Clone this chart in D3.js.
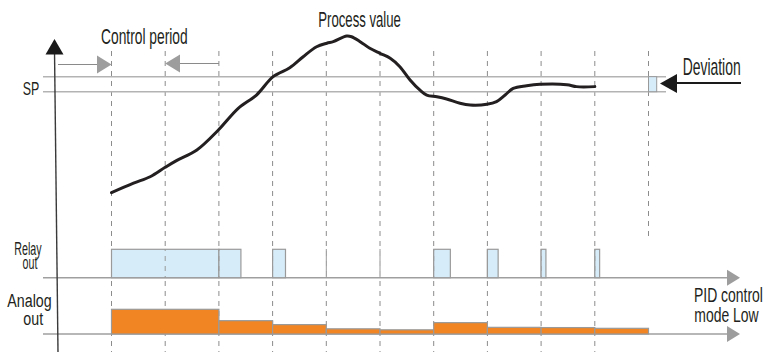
<!DOCTYPE html>
<html>
<head>
<meta charset="utf-8">
<script src="https://cdn.jsdelivr.net/npm/d3@7"></script>
<style>
  html, body { margin: 0; padding: 0; background: #fff; }
  svg { display: block; }
  text { font-family: "Liberation Sans Narrow", "Arial Narrow", sans-serif; fill: #231f20; }
</style>
</head>
<body>
<svg id="chart" width="764" height="352"></svg>
<script>
// ---------------- data ----------------
// control periods (dashed boundaries), in period units
const periods = [0, 1, 2, 3, 4, 5, 6, 7, 8, 9, 10];

// process value curve: time (periods) and value (arbitrary units)
const pvTime  = [0.0, 0.41, 0.72, 1.0, 1.21, 1.59, 1.99, 2.36, 2.70, 3.01, 3.32, 3.57, 3.82, 4.01, 4.13, 4.38, 4.47, 4.63, 4.81, 5.0, 5.19, 5.37, 5.56, 5.74, 5.87, 6.06, 6.24, 6.49, 6.68, 6.99, 7.17, 7.33, 7.48, 7.73, 7.98, 8.48, 8.66, 9.0];
const pvValue = [9.9, 15.3, 19.0, 24.4, 28.2, 34.3, 45.7, 58.1, 65.7, 76.2, 81.3, 87.6, 93.3, 95.3, 96.2, 99.4, 99.0, 96.2, 92.4, 89.5, 86.7, 81.9, 74.3, 68.6, 65.7, 64.7, 63.4, 61.0, 60.0, 60.4, 61.9, 65.7, 69.5, 71.0, 71.8, 71.6, 70.5, 70.5];

// set point band (deviation)
const spBand = [67.6, 76.2];

// relay output: on-intervals (start period, on duration in periods)
const relayStart = [0, 2, 3, 6, 7, 8, 9];
const relayOn    = [2, 0.41, 0.24, 0.31, 0.2, 0.09, 0.09];

// analog output: (start period, duration, output %)
const analogStart = [0, 2, 3, 4, 5, 6, 7, 8, 9];
const analogDur   = [2, 1, 1, 1, 1, 1, 1, 1, 1];
const analogOut   = [100, 54, 38, 21, 17, 46, 27, 26, 23];

// ---------------- drawing ----------------
const svg = d3.select("#chart");

const x = d3.scaleLinear().domain([0, 10]).range([111.5, 648.5]);
const yPV = d3.scaleLinear().domain([0, 100]).range([210, 35]);
const yRelay = d3.scaleLinear().domain([0, 1]).range([277.7, 249.3]);
const yAnalog = d3.scaleLinear().domain([0, 100]).range([334, 309.3]);

const grayLine = "#b3b3b3";
const arrowGray = "#9d9d9d";

// condensed label (one or more lines in a single text element),
// squeezed horizontally so that the first line has the given width
function label(lines, fs) {
  const t = svg.append("text").attr("font-size", fs);
  const spans = lines.map(l => t.append("tspan").attr("x", 0).attr("y", 0).text(l.txt));
  const w0 = spans[0].node().getComputedTextLength() || lines[0].len;
  const s = lines[0].len / w0;
  const x0 = lines[0].x;
  t.attr("transform", `translate(${x0},0) scale(${s},1)`);
  spans.forEach((sp, i) => sp.attr("x", (lines[i].x - x0) / s).attr("y", lines[i].y));
}

// dashed period boundaries
svg.append("g").selectAll("line")
  .data(periods)
  .join("line")
  .attr("x1", d => x(d)).attr("x2", d => x(d))
  .attr("y1", 51).attr("y2", d => d === 10 ? 236 : 352)
  .attr("stroke", "#8c8c8c")
  .attr("stroke-width", 1)
  .attr("stroke-dasharray", "5,5");

// SP band lines
svg.append("g").selectAll("line")
  .data(spBand)
  .join("line")
  .attr("x1", 43).attr("x2", 666)
  .attr("y1", d => yPV(d)).attr("y2", d => yPV(d))
  .attr("stroke", grayLine)
  .attr("stroke-width", 1.5);

// deviation box
svg.append("rect")
  .attr("x", x(10)).attr("width", 8.2)
  .attr("y", yPV(spBand[1])).attr("height", yPV(spBand[0]) - yPV(spBand[1]))
  .attr("fill", "#d6ecf9").attr("stroke", "#9a9a9a").attr("stroke-width", 1);

// relay axis & analog axis lines with arrows
[yRelay(0), yAnalog(0)].forEach(yy => {
  svg.append("line").attr("x1", 43).attr("x2", 728).attr("y1", yy).attr("y2", yy)
    .attr("stroke", "#9f9f9f").attr("stroke-width", 1.5);
  svg.append("path")
    .attr("d", `M727,${yy - 8}L740,${yy}L727,${yy + 8}Z`)
    .attr("fill", arrowGray);
});

// relay bars
svg.append("g").selectAll("rect")
  .data(relayStart.map((s, i) => ({ s, d: relayOn[i] })))
  .join("rect")
  .attr("x", d => x(d.s))
  .attr("width", d => x(d.s + d.d) - x(d.s))
  .attr("y", yRelay(1))
  .attr("height", yRelay(0) - yRelay(1))
  .attr("fill", "#d6ecf9")
  .attr("stroke", "#9a9a9a")
  .attr("stroke-width", 1.2);

// analog bars
svg.append("g").selectAll("rect")
  .data(analogStart.map((s, i) => ({ s, d: analogDur[i], v: analogOut[i] })))
  .join("rect")
  .attr("x", d => x(d.s))
  .attr("width", d => x(d.s + d.d) - x(d.s))
  .attr("y", d => yAnalog(d.v))
  .attr("height", d => yAnalog(0) - yAnalog(d.v))
  .attr("fill", "#f18523")
  .attr("stroke", "#9a9a9a")
  .attr("stroke-width", 1.2);

// dashes visible over the relay bars
svg.append("g").selectAll("line")
  .data(periods.filter(d => d > 0 && d < 10))
  .join("line")
  .attr("x1", d => x(d)).attr("x2", d => x(d))
  .attr("y1", 249).attr("y2", 278)
  .attr("stroke", "#9a9a9a")
  .attr("stroke-width", 1)
  .attr("stroke-dasharray", "5,5")
  .attr("stroke-dashoffset", 3);

// process value curve
const line = d3.line()
  .x(d => x(d[0]))
  .y(d => yPV(d[1]))
  .curve(d3.curveCatmullRom.alpha(0.5));
svg.append("path")
  .datum(pvTime.map((t, i) => [t, pvValue[i]]))
  .attr("d", line)
  .attr("fill", "none")
  .attr("stroke", "#231f20")
  .attr("stroke-width", 3)
  .attr("stroke-linecap", "round");

// y axis (slightly slanted) with black arrow
svg.append("line")
  .attr("x1", 54.5).attr("y1", 50).attr("x2", 58).attr("y2", 352)
  .attr("stroke", "#3a3a3a").attr("stroke-width", 1.4);
svg.append("path")
  .attr("d", "M54.5,39L63.5,54.5L45.5,54.5Z")
  .attr("fill", "#1a1a1a");

// control period arrows
svg.append("line").attr("x1", 58).attr("x2", 98).attr("y1", 64.5).attr("y2", 64.5)
  .attr("stroke", "#8a8a8a").attr("stroke-width", 1);
svg.append("path").attr("d", `M97,55.5L${x(0)},64.5L97,73.5Z`).attr("fill", arrowGray);
svg.append("line").attr("x1", 179).attr("x2", x(2)).attr("y1", 63.5).attr("y2", 63.5)
  .attr("stroke", "#8a8a8a").attr("stroke-width", 1);
svg.append("path").attr("d", `M180,54.5L${x(1)},63.5L180,72.5Z`).attr("fill", arrowGray);

// deviation arrow
svg.append("line").attr("x1", 676).attr("x2", 741).attr("y1", 83).attr("y2", 83)
  .attr("stroke", "#1a1a1a").attr("stroke-width", 2);
svg.append("path").attr("d", "M660,83.5L677,74L677,93Z").attr("fill", "#1a1a1a");

// labels
label([{ txt: "Control period", x: 101, y: 44.5, len: 86.7 }], 22);
label([{ txt: "Process value", x: 318.3, y: 26.7, len: 82.7 }], 22);
label([{ txt: "Deviation", x: 682.7, y: 75, len: 58 }], 23);
label([{ txt: "SP", x: 22.7, y: 95, len: 16.6 }], 18);
label([{ txt: "Relay", x: 14.3, y: 255, len: 27.4 }, { txt: "out", x: 22.5, y: 269.5 }], 18);
label([{ txt: "Analog", x: 7.3, y: 307, len: 44.4 }, { txt: "out", x: 23.3, y: 325.5 }], 19);
label([{ txt: "PID control", x: 694, y: 302, len: 69 }, { txt: "mode Low", x: 694.3, y: 321.7 }], 21);
</script>
</body>
</html>
